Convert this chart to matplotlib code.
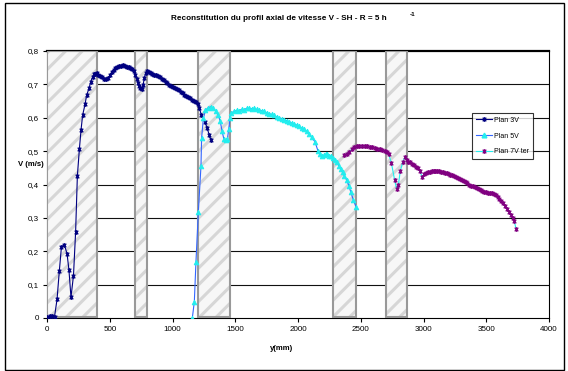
import matplotlib
matplotlib.use("Agg")
import matplotlib.pyplot as plt
from matplotlib.patches import Rectangle
from matplotlib.path import Path
from matplotlib.lines import Line2D
from matplotlib.ticker import FuncFormatter

plt.rcParams['font.family'] = ['Liberation Sans', 'DejaVu Sans']
plt.rcParams['hatch.linewidth'] = 2.2

# ---- data -------------------------------------------------------------
plan3v_y_mm = [0, 20, 40, 60, 80, 98, 115, 138, 160, 175, 191, 211, 228, 242,
               258, 271, 284, 303, 316, 335, 348, 364, 375,
               380, 395, 410, 425, 440, 455, 470, 485, 500, 515, 530, 545, 560,
               575, 590, 605, 620, 635, 650, 665, 680, 695, 705, 715, 725, 735,
               745, 755, 765, 775, 785, 795, 810, 825, 840, 855, 870, 885, 900,
               915, 930, 945, 960, 975, 990, 1005, 1020, 1035, 1050, 1065, 1080,
               1095, 1110, 1125, 1140, 1155, 1170, 1185, 1200, 1215, 1230, 1259,
               1277, 1293, 1307]
plan3v_v = [0.003, 0.005, 0.005, 0.004, 0.056, 0.140, 0.213, 0.220, 0.192,
            0.143, 0.062, 0.127, 0.258, 0.426, 0.506, 0.563, 0.608, 0.640,
            0.668, 0.688, 0.708, 0.723, 0.730,
            0.731, 0.733, 0.729, 0.726, 0.721, 0.717, 0.715, 0.719, 0.727,
            0.737, 0.744, 0.749, 0.753, 0.756, 0.755, 0.757, 0.754, 0.753,
            0.752, 0.749, 0.746, 0.739, 0.728, 0.717, 0.704, 0.694, 0.688,
            0.686, 0.697, 0.718, 0.733, 0.741, 0.737, 0.734, 0.731, 0.729,
            0.727, 0.724, 0.721, 0.716, 0.712, 0.707, 0.703, 0.699, 0.696,
            0.692, 0.689, 0.686, 0.682, 0.678, 0.673, 0.669, 0.665, 0.661,
            0.658, 0.654, 0.650, 0.646, 0.640, 0.628, 0.608, 0.588, 0.568,
            0.548, 0.533]

plan5v_y_mm = [1158, 1174, 1187, 1206, 1227, 1232, 1246, 1262, 1285, 1305,
               1325, 1345, 1365, 1380, 1395, 1410, 1425, 1437, 1448, 1458,
               1470, 1490, 1510, 1530, 1550, 1570, 1590, 1610, 1630, 1650,
               1670, 1690, 1710, 1730, 1750, 1770, 1790, 1810, 1830, 1850,
               1870, 1890, 1910, 1930, 1950, 1970, 1990, 2010, 2030, 2050,
               2070, 2090, 2110, 2135, 2160, 2175, 2190, 2205, 2220, 2235,
               2250, 2265, 2280, 2295, 2310, 2325, 2340, 2355, 2370, 2388,
               2405, 2420, 2440, 2462]
plan5v_v = [0.000, 0.049, 0.169, 0.319, 0.456, 0.540, 0.598, 0.622, 0.630,
            0.633, 0.628, 0.620, 0.608, 0.590, 0.560, 0.535, 0.533, 0.535,
            0.565, 0.598,
            0.615, 0.619, 0.622, 0.621, 0.625, 0.624, 0.628, 0.628, 0.627,
            0.628, 0.625, 0.623, 0.621, 0.620, 0.615, 0.612, 0.610, 0.607,
            0.603, 0.600, 0.597, 0.594, 0.591, 0.588, 0.584, 0.581, 0.578,
            0.574, 0.569, 0.565, 0.559, 0.550, 0.541, 0.528, 0.500, 0.490,
            0.484, 0.487, 0.491, 0.490, 0.486, 0.484, 0.478, 0.472, 0.466,
            0.456, 0.445, 0.436, 0.425, 0.413, 0.397, 0.378, 0.355, 0.333]

plan7v_y_mm = [2370, 2390, 2410, 2430, 2450, 2470, 2490, 2510, 2530, 2550,
               2570, 2590, 2610, 2630, 2650, 2670, 2690, 2710, 2722, 2745,
               2770, 2785, 2800, 2815, 2835, 2853, 2868, 2880, 2895, 2910,
               2925, 2940, 2955, 2970, 2990, 3005, 3020, 3035, 3050, 3065,
               3080, 3095, 3110, 3125, 3140, 3155, 3170, 3185, 3200, 3215,
               3230, 3245, 3260, 3275, 3290, 3305, 3320, 3335, 3350, 3365,
               3380, 3395, 3410, 3425, 3440, 3455, 3470, 3485, 3500, 3515,
               3530, 3545, 3560, 3575, 3590, 3605, 3620, 3635, 3650, 3665,
               3680, 3695, 3710, 3722, 3737]
plan7v_v = [0.487, 0.492, 0.498, 0.506, 0.511, 0.514, 0.515, 0.516, 0.515,
            0.514, 0.513, 0.511, 0.510, 0.507, 0.505, 0.502, 0.500, 0.497,
            0.492, 0.463, 0.413, 0.388, 0.400, 0.440, 0.468, 0.483, 0.474,
            0.468, 0.466, 0.462, 0.458, 0.452, 0.448, 0.440, 0.423, 0.430,
            0.434, 0.436, 0.438, 0.439, 0.440, 0.440, 0.439, 0.439, 0.438,
            0.437, 0.435, 0.433, 0.431, 0.429, 0.427, 0.425, 0.422, 0.419,
            0.416, 0.412, 0.409, 0.406, 0.403, 0.400, 0.397, 0.395, 0.392,
            0.390, 0.387, 0.384, 0.381, 0.379, 0.377, 0.376, 0.375, 0.374,
            0.371, 0.368, 0.363, 0.357, 0.351, 0.344, 0.336, 0.328, 0.319,
            0.310, 0.300, 0.292, 0.268]

# shaded (hatched) zones along y, in mm
zone_starts = [0, 700, 1200, 2280, 2700]
zone_ends = [400, 800, 1460, 2460, 2870]

series_labels = ["Plan 3V", "Plan 5V", "Plan 7V ter"]
x_ticks = [0, 500, 1000, 1500, 2000, 2500, 3000, 3500, 4000]
y_ticks = [0, 0.1, 0.2, 0.3, 0.4, 0.5, 0.6, 0.7, 0.8]

# ---- styles -----------------------------------------------------------
star = Path([(-1, -1), (1, 1), (-1, 1), (1, -1), (0, -1.3), (0, 1.3)],
            [Path.MOVETO, Path.LINETO, Path.MOVETO, Path.LINETO,
             Path.MOVETO, Path.LINETO])
navy = "#000080"
purple = "#800080"
cyan = "#22eeee"
blue = "#3366ff"
msize = 3.4
medge = 0.9

fig = plt.figure(figsize=(5.68, 3.71), dpi=100)
ax = fig.add_axes([47 / 568, 53 / 371, 502 / 568, 267 / 371])

ax.set_xlim(0, 4000)
ax.set_ylim(0, 0.8)

for yv in y_ticks[1:-1]:
    ax.axhline(yv, color="#111111", lw=0.8, zorder=0.5)

for s, e in zip(zone_starts, zone_ends):
    ax.add_patch(Rectangle((s, 0.002), e - s, 0.798, facecolor="#f7f7f7",
                           edgecolor="#d6d6d6", hatch="//", lw=0,
                           zorder=2.6))
    ax.add_patch(Rectangle((s, 0.002), e - s, 0.798, facecolor="none",
                           edgecolor="#999999", lw=1.5, zorder=2.7))

ax.plot(plan3v_y_mm, plan3v_v, color=navy, lw=0.8, marker=star,
        markersize=msize, markeredgewidth=medge, markeredgecolor=navy,
        zorder=3)
ax.plot(plan5v_y_mm, plan5v_v, color=blue, lw=0.8, marker="^",
        markersize=msize, markerfacecolor=cyan, markeredgecolor=cyan,
        markeredgewidth=0.6, zorder=3)
ax.plot(plan7v_y_mm, plan7v_v, color=cyan, lw=0.8, marker=star,
        markersize=msize, markeredgewidth=medge, markeredgecolor=purple,
        zorder=3)

for side in ["left", "bottom", "right"]:
    ax.spines[side].set_color("black")
    ax.spines[side].set_linewidth(0.8)
ax.spines["top"].set_color("black")
ax.spines["top"].set_linewidth(1.6)

ax.set_xticks(x_ticks)
ax.set_yticks(y_ticks)
ax.yaxis.set_major_formatter(FuncFormatter(
    lambda v, p: "0" if v == 0 else f"{v:.1f}".replace(".", ",")))
ax.tick_params(axis="both", direction="out", length=3, width=0.8,
               labelsize=5.8, pad=3, colors="black")

fig.text(0.49, 0.951, "Reconstitution du profil axial de vitesse V - SH - R = 5 h",
         ha="center", va="center", fontsize=5.9, fontweight="bold")
fig.text(0.727, 0.960, "-1", ha="center", va="center", fontsize=4.5,
         fontweight="bold")
fig.text(30.5 / 568, 1 - 165 / 371, "V (m/s)", ha="center", va="center",
         fontsize=5.6, fontweight="bold")
fig.text(282 / 568, 1 - 349 / 371, "y(mm)", ha="center", va="center",
         fontsize=5.6, fontweight="bold")

handles = [
    Line2D([], [], color=navy, lw=0.8, marker=star, markersize=msize,
           markeredgewidth=medge, markeredgecolor=navy),
    Line2D([], [], color=blue, lw=0.8, marker="^", markersize=msize,
           markerfacecolor=cyan, markeredgecolor=cyan),
    Line2D([], [], color=cyan, lw=0.8, marker=star, markersize=msize,
           markeredgewidth=medge, markeredgecolor=purple),
]
leg = fig.legend(handles, series_labels, loc="upper left",
                 bbox_to_anchor=(472 / 568, 1 - 113 / 371), fontsize=5,
                 frameon=True, fancybox=False, handlelength=2.3,
                 handletextpad=0.3, labelspacing=1.25, borderpad=0.55,
                 borderaxespad=0)
leg.get_frame().set_edgecolor("black")
leg.get_frame().set_linewidth(0.8)

fig.patches.append(Rectangle((5 / 568, 1 / 371), 559 / 568, 367 / 371,
                             transform=fig.transFigure, fill=False,
                             edgecolor="black", lw=1.0))

fig.savefig("out.png", dpi=100)
